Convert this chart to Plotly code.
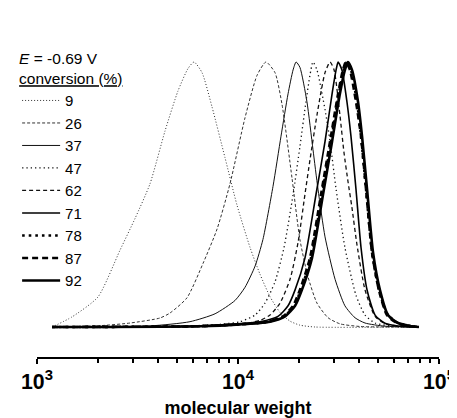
import plotly.graph_objects as go

# conversion (%) labels
conversions = ["9", "26", "37", "47", "62", "71", "78", "87", "92"]

# log10(molecular weight) and normalized detector response
logM_9 = [3.075, 3.174, 3.303, 3.413, 3.488, 3.562, 3.637, 3.701, 3.751, 3.781, 3.821, 3.871, 3.935, 3.995, 4.060, 4.109, 4.159, 4.209, 4.259, 4.308, 4.383, 4.900]
w_9 = [0, 0.038, 0.113, 0.29, 0.41, 0.54, 0.74, 0.89, 0.975, 1, 0.96, 0.83, 0.64, 0.46, 0.30, 0.20, 0.115, 0.055, 0.022, 0.007, 0, 0]

logM_26 = [3.075, 3.313, 3.463, 3.612, 3.662, 3.746, 3.826, 3.896, 3.960, 4.035, 4.095, 4.139, 4.184, 4.219, 4.269, 4.308, 4.348, 4.393, 4.448, 4.507, 4.607, 4.900]
w_26 = [0, 0.005, 0.015, 0.034, 0.053, 0.11, 0.24, 0.37, 0.54, 0.79, 0.95, 1, 0.96, 0.84, 0.56, 0.33, 0.19, 0.09, 0.035, 0.012, 0.002, 0]

logM_37 = [3.075, 3.562, 3.761, 3.886, 3.985, 4.035, 4.085, 4.124, 4.174, 4.214, 4.249, 4.274, 4.289, 4.308, 4.343, 4.373, 4.398, 4.433, 4.483, 4.532, 4.582, 4.632, 4.731, 4.900]
w_37 = [0, 0.004, 0.02, 0.05, 0.1, 0.15, 0.23, 0.33, 0.53, 0.72, 0.88, 0.97, 1, 0.98, 0.85, 0.67, 0.52, 0.34, 0.18, 0.08, 0.035, 0.015, 0.003, 0]

logM_47 = [3.075, 3.711, 3.910, 4.010, 4.085, 4.134, 4.184, 4.229, 4.274, 4.308, 4.338, 4.358, 4.373, 4.393, 4.433, 4.458, 4.488, 4.532, 4.587, 4.632, 4.682, 4.756, 4.900]
w_47 = [0, 0.003, 0.01, 0.02, 0.045, 0.09, 0.17, 0.3, 0.5, 0.68, 0.85, 0.95, 1, 0.97, 0.82, 0.7, 0.52, 0.3, 0.12, 0.045, 0.015, 0.004, 0]

logM_62 = [3.075, 3.811, 4.010, 4.109, 4.159, 4.209, 4.259, 4.299, 4.333, 4.358, 4.393, 4.433, 4.458, 4.478, 4.507, 4.527, 4.547, 4.567, 4.592, 4.632, 4.682, 4.731, 4.806, 4.900]
w_62 = [0, 0.003, 0.01, 0.025, 0.045, 0.09, 0.18, 0.32, 0.5, 0.63, 0.8, 0.96, 1, 0.97, 0.8, 0.66, 0.55, 0.45, 0.31, 0.14, 0.04, 0.013, 0.003, 0]

logM_71 = [3.075, 3.761, 3.960, 4.109, 4.199, 4.249, 4.284, 4.333, 4.388, 4.433, 4.468, 4.488, 4.498, 4.517, 4.542, 4.562, 4.587, 4.612, 4.642, 4.682, 4.731, 4.806, 4.900]
w_71 = [0, 0.003, 0.01, 0.02, 0.04, 0.08, 0.14, 0.26, 0.5, 0.7, 0.88, 0.97, 1, 0.97, 0.85, 0.72, 0.52, 0.3, 0.14, 0.045, 0.014, 0.003, 0]

logM_78 = [3.075, 3.806, 4.005, 4.154, 4.229, 4.279, 4.313, 4.363, 4.418, 4.463, 4.502, 4.527, 4.542, 4.562, 4.592, 4.612, 4.637, 4.667, 4.701, 4.746, 4.796, 4.856, 4.900]
w_78 = [0, 0.003, 0.01, 0.02, 0.04, 0.08, 0.14, 0.26, 0.5, 0.7, 0.88, 0.97, 1, 0.97, 0.85, 0.72, 0.52, 0.28, 0.14, 0.045, 0.015, 0.004, 0]

logM_87 = [3.075, 3.801, 4.000, 4.149, 4.224, 4.274, 4.308, 4.358, 4.413, 4.458, 4.498, 4.522, 4.537, 4.557, 4.587, 4.612, 4.637, 4.667, 4.701, 4.741, 4.791, 4.851, 4.900]
w_87 = [0, 0.003, 0.01, 0.02, 0.04, 0.08, 0.14, 0.26, 0.5, 0.7, 0.88, 0.97, 1, 0.97, 0.85, 0.72, 0.52, 0.28, 0.14, 0.045, 0.015, 0.004, 0]

logM_92 = [3.075, 3.811, 4.010, 4.159, 4.234, 4.284, 4.318, 4.368, 4.423, 4.468, 4.507, 4.532, 4.547, 4.567, 4.597, 4.617, 4.642, 4.672, 4.706, 4.746, 4.796, 4.856, 4.900]
w_92 = [0, 0.003, 0.01, 0.02, 0.04, 0.08, 0.14, 0.26, 0.5, 0.7, 0.88, 0.97, 1, 0.97, 0.85, 0.72, 0.52, 0.28, 0.14, 0.045, 0.015, 0.004, 0]

series = [
    (logM_9, w_9, dict(width=1, dash="1px,2px", color="#333")),
    (logM_26, w_26, dict(width=1, dash="3px,2px", color="#333")),
    (logM_37, w_37, dict(width=1, dash="solid", color="#111")),
    (logM_47, w_47, dict(width=1.3, dash="1.3px,3px", color="#111")),
    (logM_62, w_62, dict(width=1.3, dash="4px,3px", color="#111")),
    (logM_71, w_71, dict(width=1.6, dash="solid", color="black")),
    (logM_78, w_78, dict(width=2.6, dash="2.6px,4px", color="black")),
    (logM_87, w_87, dict(width=2.6, dash="6px,4px", color="black")),
    (logM_92, w_92, dict(width=2.6, dash="solid", color="black")),
]

fig = go.Figure()
for name, (lm, w, ln) in zip(conversions, series):
    fig.add_trace(go.Scatter(
        x=[10 ** v for v in lm], y=w, mode="lines", name=name,
        legendgroup=name,
        line=dict(shape="spline", smoothing=0.6, **ln),
    ))

FONT = "Liberation Sans, Arial, sans-serif"
fig.update_layout(
    width=449, height=410,
    margin=dict(l=29, r=18, t=32, b=61, autoexpand=False),
    paper_bgcolor="white", plot_bgcolor="white",
    font=dict(family=FONT, color="black", size=15),
    showlegend=True,
    legend=dict(
        xref="container", yref="container", x=0.0203, y=0.9124,
        xanchor="left", yanchor="top",
        bgcolor="rgba(0,0,0,0)", borderwidth=0,
        itemwidth=38, tracegroupgap=0, maxheight=400,
        font=dict(size=15, family=FONT),
        title=dict(text="<i>E</i> = -0.69 V<br><span style='text-decoration:underline'>conversion (%)</span>",
                   font=dict(size=15.5, family=FONT), side="top"),
    ),
    xaxis=dict(
        type="log", range=[3, 5], dtick=1, exponentformat="power",
        showgrid=False, zeroline=False,
        showline=True, linewidth=2, linecolor="black",
        ticks="outside", ticklen=5, tickwidth=2, tickcolor="black",
        tickfont=dict(size=17, family=FONT, weight="bold"),
        minor=dict(ticks="outside", ticklen=4, tickwidth=1.5, tickcolor="black", dtick="D1", showgrid=False),
        title=dict(text="molecular weight", font=dict(size=18, family=FONT, weight="bold"), standoff=16),
    ),
    yaxis=dict(range=[-0.1132, 1.083], visible=False, showgrid=False, zeroline=False),
)

fig.write_html("out.html")
